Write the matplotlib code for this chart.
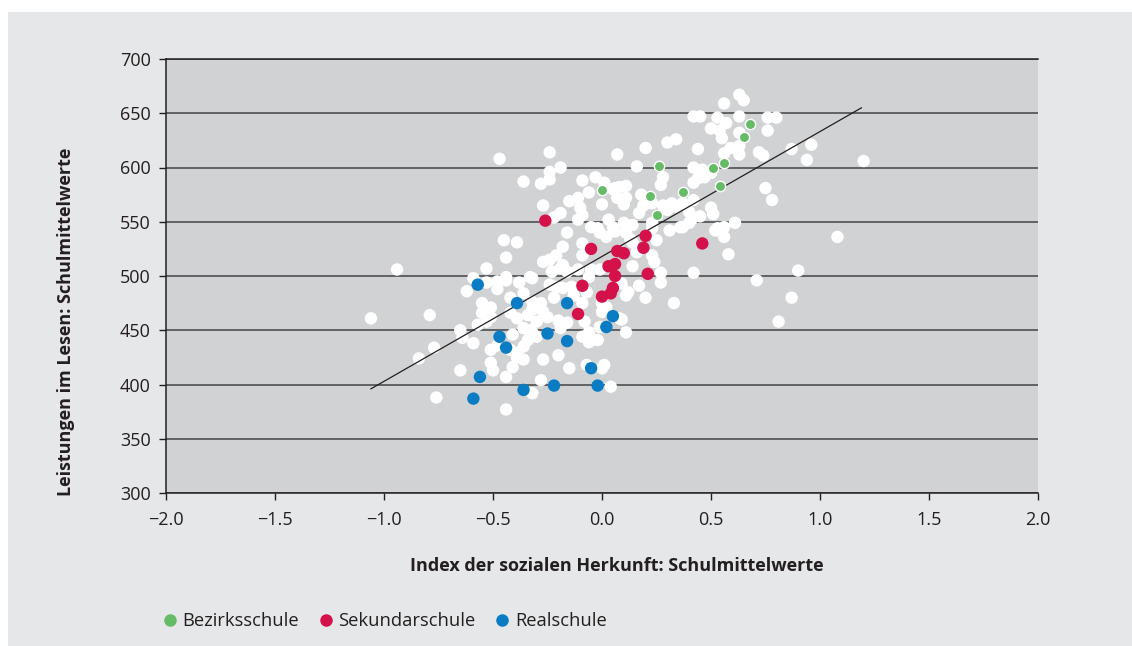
import matplotlib
matplotlib.use("Agg")
import matplotlib.pyplot as plt
from matplotlib.lines import Line2D
from matplotlib.patches import Rectangle

plt.rcParams['font.family'] = ['Open Sans', 'DejaVu Sans']

# school means: social origin index (x) vs reading score (y)
white_x = [0.63, 0.65, 0.56, 0.42, 0.45, 0.53, 0.57, 0.63, 0.76, 0.80, 0.50, 0.54, 0.55, 0.63, 0.76,
           0.34, 0.30, 0.20, 0.44, 0.59, 0.63, 0.56, 0.63, 0.72, 0.74, 0.87, 0.94, 0.96, 1.20, 0.07,
           -0.24, -0.47, -0.19, -0.24, -0.24, -0.36, -0.28, -0.09, -0.03, 0.16, 0.42, 0.46, 0.44, 0.42,
           0.28, 0.27, 0.01, 0.06, 0.11, 0.05, 0.08, 0.50, 0.47, 0.75, 0.78, -0.06, -0.11, -0.15, -0.10,
           -0.09, 0.00, 0.07, 0.10, 0.11, 0.18, 0.19, 0.17, 0.23, 0.28, 0.32, 0.42, 0.37, 0.34, 0.30,
           0.50, 0.51, 0.45, 0.40, 0.41, 0.37, -0.27, -0.19, -0.22, -0.11, 0.03, 0.05, 0.10, 0.14, 0.23,
           -0.05, -0.02, -0.16, -0.01, 0.02, 0.06, 0.11, 0.23, 0.31, 0.36, 0.40, 0.53, 0.56, 0.61, 0.52,
           0.56, -0.45, -0.39, -0.18, -0.21, -0.24, -0.09, -0.09, 0.14, 0.16, 0.23, 0.25, 0.13, -0.44,
           -0.27, -0.19, -0.23, -0.53, -0.94, -0.33, -0.44, -0.11, -0.16, -0.01, 0.14, -0.05, 0.24, 0.27,
           0.42, 0.58, 0.71, 0.90, 1.08, 0.27, 0.17, 0.11, 0.09, 0.20, 0.33, 0.12, 0.00, 0.87, 0.81,
           0.09, 0.11, 0.02, 0.00, -0.02, -0.05, 0.01, 0.00, 0.04, -0.01, 0.08, -0.06, -0.08, -0.07,
           -0.15, -0.28, -0.32, -0.44, -0.44, -0.27, -0.20, -0.39, -0.36, -0.41, -0.51, -0.48, -0.42,
           -0.51, -0.50, -0.59, -0.65, -0.76, -0.84, -0.77, -0.79, -1.06, -0.65, -0.64, -0.57, -0.53,
           -0.55, -0.51, -0.55, -0.51, -0.42, -0.39, -0.34, -0.32, -0.30, -0.25, -0.20, -0.16, -0.19,
           -0.36, -0.32, -0.30, -0.34, -0.36, -0.41, -0.33, -0.39, -0.09, -0.06, -0.62, -0.59, -0.48,
           -0.48, -0.44, -0.38, -0.32, -0.24, -0.21, -0.14, -0.07, -0.09, -0.42, -0.32, -0.28, -0.22,
           -0.53, -0.36, -0.18, -0.13, -0.27, -0.06, -0.18]
white_y = [667, 662, 659, 647, 647, 646, 641, 647, 646, 646, 636, 634, 627, 632, 634,
           626, 623, 618, 617, 618, 620, 613, 612, 614, 611, 617, 607, 621, 606, 612,
           614, 608, 600, 596, 589, 587, 585, 588, 591, 601, 600, 598, 590, 586,
           591, 584, 586, 581, 583, 580, 582, 595, 591, 581, 570, 577, 572, 569, 563,
           556, 566, 572, 566, 572, 575, 565, 558, 567, 565, 567, 570, 567, 564, 561,
           563, 557, 555, 559, 552, 545, 565, 558, 554, 552, 552, 545, 549, 547, 549,
           545, 544, 540, 540, 536, 541, 540, 544, 542, 545, 549, 544, 545, 549, 542,
           536, 533, 531, 527, 519, 515, 519, 530, 531, 522, 519, 533, 534, 517,
           513, 507, 504, 507, 506, 499, 499, 506, 504, 506, 509, 506, 513, 503,
           503, 520, 496, 505, 536, 494, 491, 482, 493, 480, 475, 485, 475, 480, 458,
           460, 448, 471, 467, 441, 441, 418, 415, 398, 453, 461, 448, 458, 418,
           415, 404, 392, 407, 377, 423, 427, 425, 423, 416, 432, 436, 432,
           420, 413, 438, 413, 388, 424, 434, 464, 461, 450, 443, 455, 458,
           466, 462, 475, 471, 466, 461, 464, 469, 458, 462, 459, 457, 452,
           452, 448, 444, 441, 435, 446, 450, 429, 444, 439, 486, 498, 495,
           488, 496, 494, 498, 492, 490, 490, 485, 475, 480, 476, 475, 480,
           494, 484, 489, 482, 467, 499, 510]

bezirk_x = [0.00, 0.26, 0.22, 0.25, 0.37, 0.51, 0.56, 0.54, 0.65, 0.68]
bezirk_y = [579, 601, 574, 556, 577, 600, 604, 583, 628, 640]

sek_x = [-0.26, -0.05, 0.07, 0.10, 0.20, 0.19, 0.46, 0.03, 0.06, 0.06, 0.21, -0.09, 0.05, 0.04, 0.00, -0.11]
sek_y = [551, 525, 523, 521, 537, 526, 530, 509, 511, 500, 502, 491, 489, 484, 481, 465]

real_x = [-0.57, -0.39, -0.16, 0.05, 0.02, -0.47, -0.44, -0.25, -0.16, -0.05, -0.56, -0.36, -0.22, -0.02, -0.59]
real_y = [492, 475, 475, 463, 453, 444, 434, 447, 440, 415, 407, 395, 399, 399, 387]

# regression line endpoints
line_x = [-1.06, 1.19]
line_y = [396, 655]

fig = plt.figure(figsize=(11.32, 6.46), dpi=100, facecolor="white")
fig.patches.append(Rectangle((8 / 1132, 0), 1 - 8 / 1132, 1 - 12 / 646, transform=fig.transFigure,
                             facecolor="#e6e7e8", edgecolor="none", zorder=-10))
ax = fig.add_axes([166 / 1132, 153 / 646, 872 / 1132, 434 / 646])
ax.set_zorder(1)
ax.set_facecolor("#d1d2d4")

ax.scatter(white_x, white_y, s=80, color="white", edgecolors="none", zorder=3)
ax.plot(line_x, line_y, color="#231f20", lw=0.9, zorder=4)
ax.scatter(bezirk_x, bezirk_y, s=55, color="#66bb66", edgecolors="white", linewidths=1.0, zorder=5)
ax.scatter(sek_x, sek_y, s=80, color="#d4114a", edgecolors="none", zorder=5)
ax.scatter(real_x, real_y, s=80, color="#0a7cc4", edgecolors="none", zorder=5)

ax.set_xlim(-2.0, 2.0)
ax.set_ylim(300, 700)
ax.set_xticks([-2.0, -1.5, -1.0, -0.5, 0.0, 0.5, 1.0, 1.5, 2.0])
ax.set_xticklabels(["\u22122.0", "\u22121.5", "\u22121.0", "\u22120.5", "0.0", "0.5", "1.0", "1.5", "2.0"])
ax.set_yticks(range(300, 701, 50))
ax.tick_params(axis="both", labelsize=13, color="#231f20", labelcolor="#231f20", length=5, width=1)
ax.tick_params(axis="x", pad=8)
ax.tick_params(axis="y", pad=6)
ax.yaxis.grid(True, color="#58595b", lw=1.3, zorder=1)
ax.set_axisbelow(True)
for side in ["left", "bottom", "top"]:
    ax.spines[side].set_color("#231f20")
    ax.spines[side].set_linewidth(1.1)
ax.spines["right"].set_visible(False)

ax.set_xlabel("Index der sozialen Herkunft: Schulmittelwerte", fontsize=13, fontweight="bold",
              color="#231f20")
ax.xaxis.set_label_coords(0.517, -0.147)
ax.set_ylabel("Leistungen im Lesen: Schulmittelwerte", fontsize=13, fontweight="bold",
              color="#231f20")
ax.yaxis.set_label_coords(-0.104, 0.394)

handles = [Line2D([], [], marker="o", ls="none", markersize=9, color=c, markeredgecolor="none")
           for c in ["#66bb66", "#d4114a", "#0a7cc4"]]
fig.legend(handles, ["Bezirksschule", "Sekundarschule", "Realschule"], loc="center left",
           bbox_to_anchor=(142 / 1132, 25 / 646), ncol=3, frameon=False, fontsize=13.2,
           handletextpad=0.1, columnspacing=0.85, handlelength=1.2, labelcolor="#231f20")

fig.savefig("out.png", dpi=100)
